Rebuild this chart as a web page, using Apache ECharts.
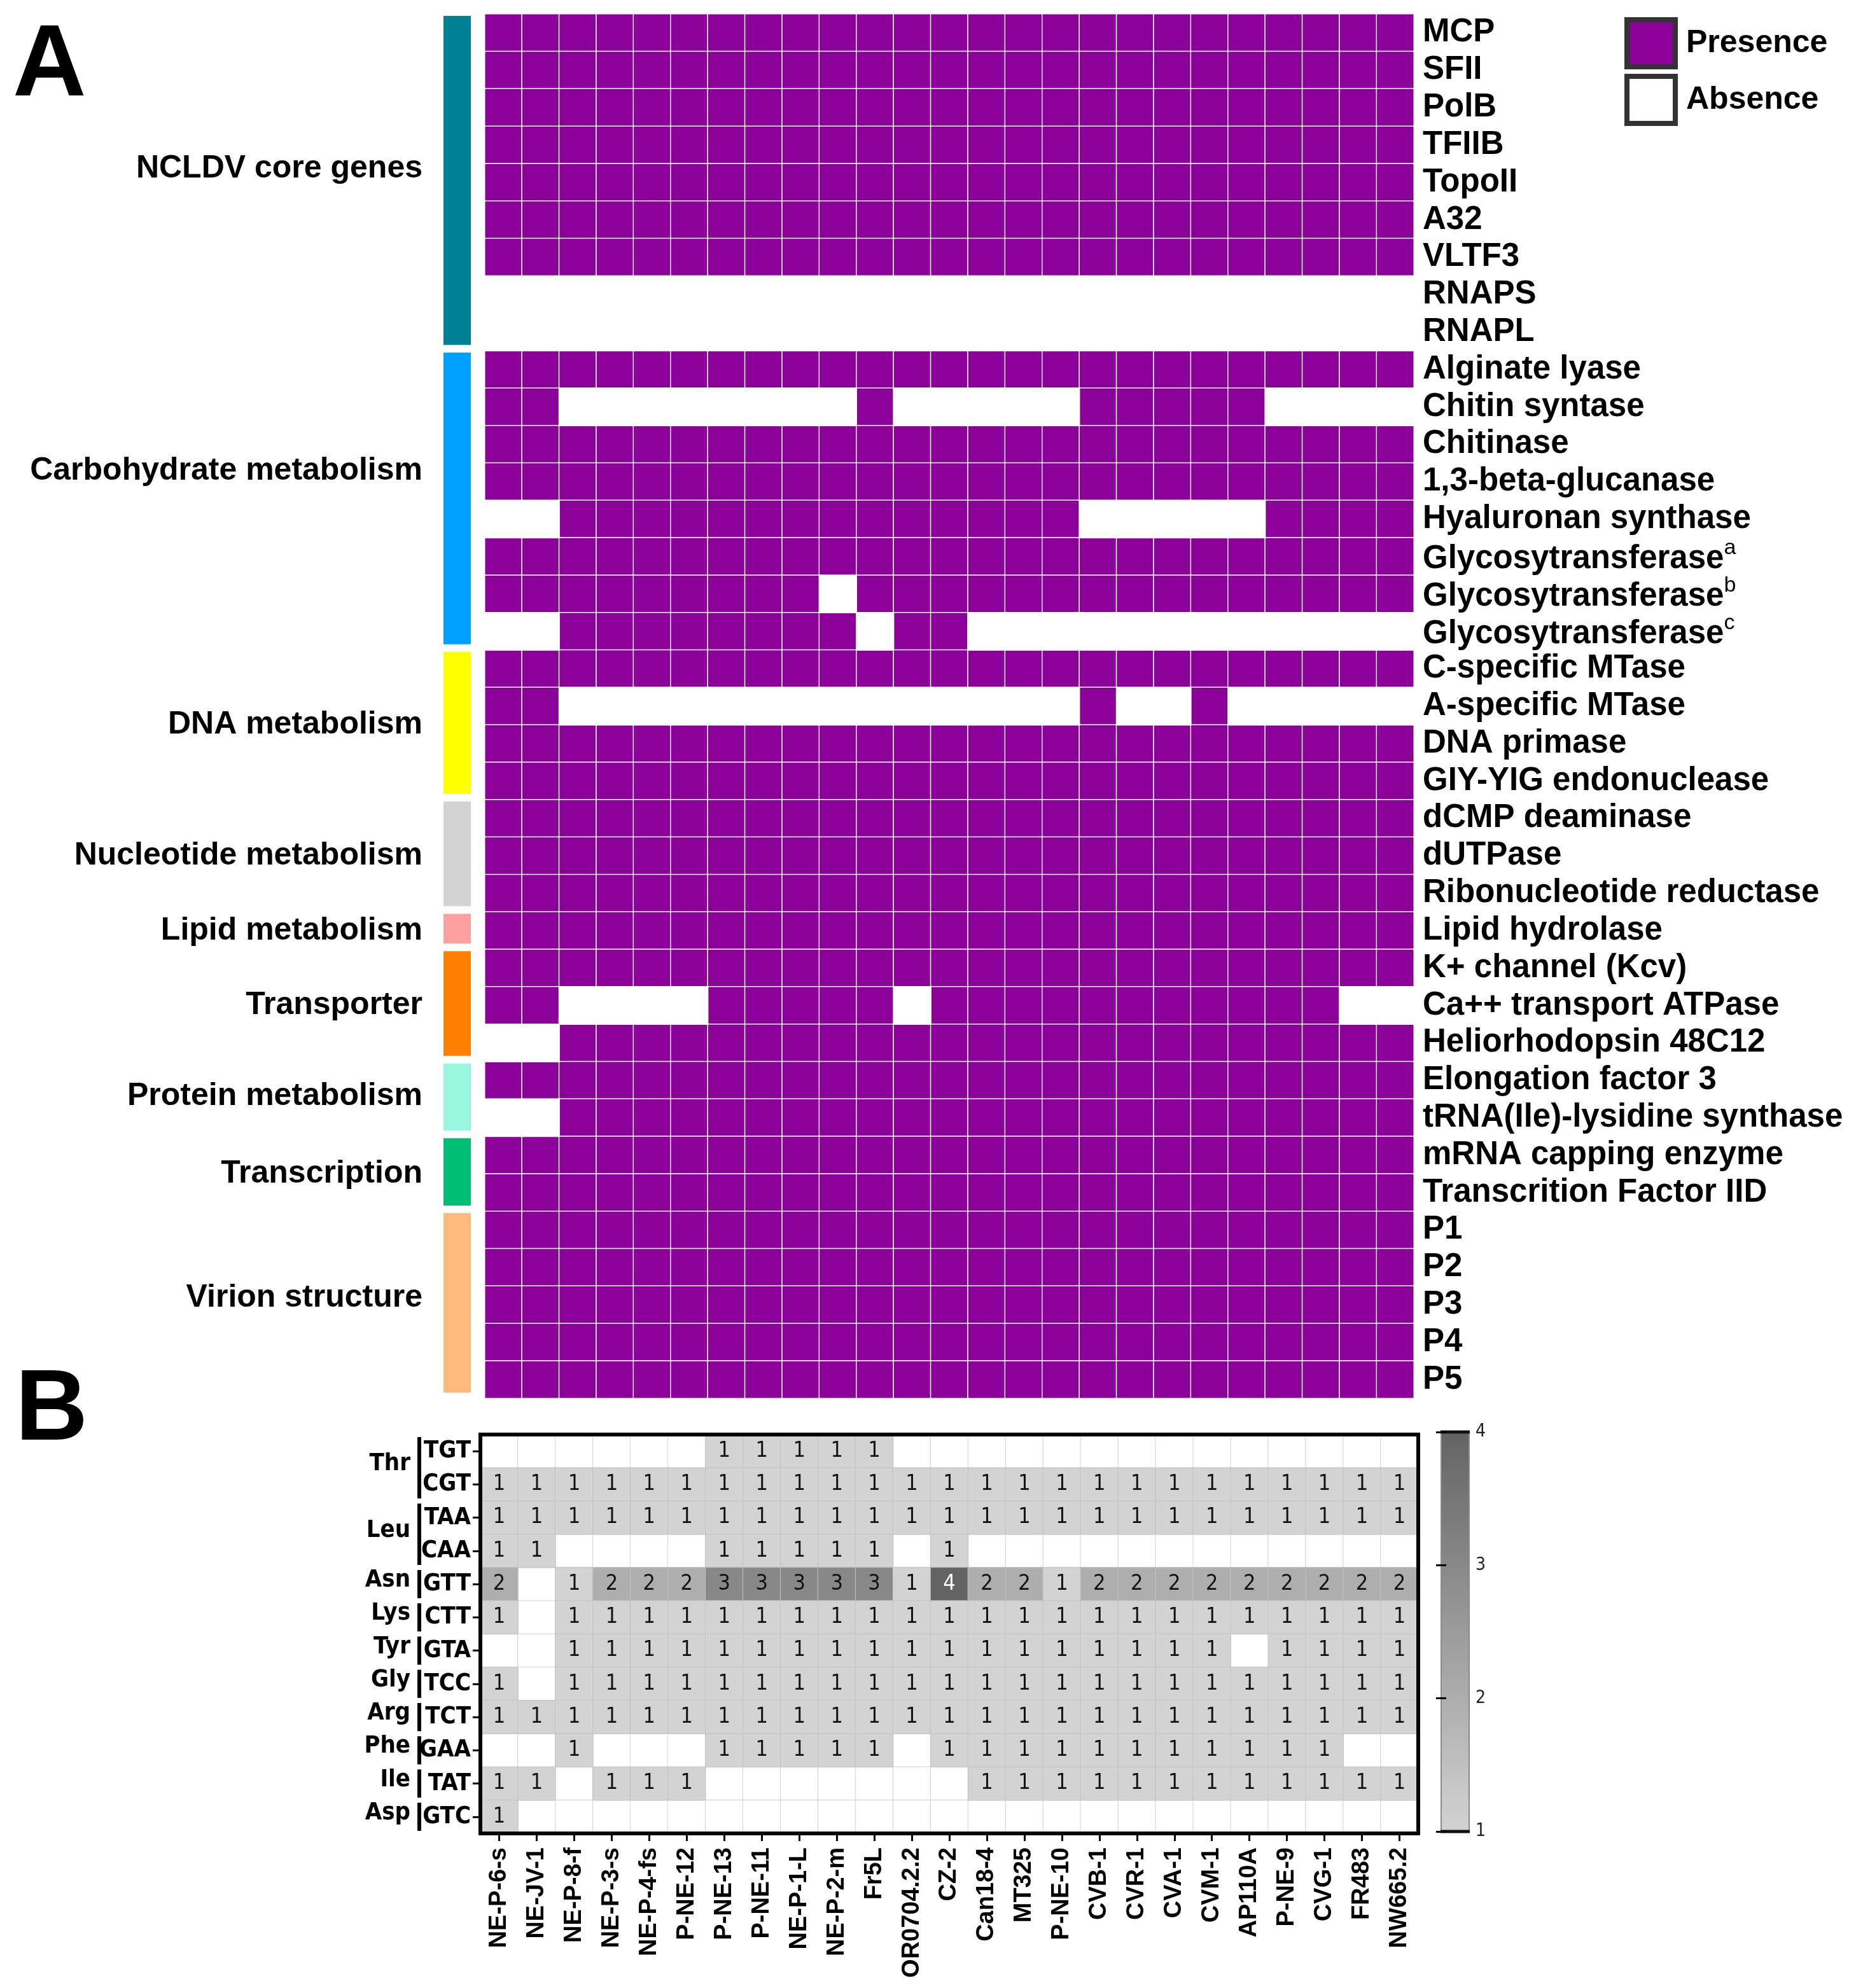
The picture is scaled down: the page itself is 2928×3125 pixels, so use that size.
<!DOCTYPE html>
<html><head><meta charset="utf-8">
<script src="https://cdn.jsdelivr.net/npm/echarts@6/dist/echarts.min.js"></script>
<style>html,body{margin:0;padding:0;background:#fff}#c{width:2928px;height:3125px}</style>
</head><body><div id="c"></div>
<script>
// ---------------- DATA ----------------
const strains = ['NE-P-6-s','NE-JV-1','NE-P-8-f','NE-P-3-s','NE-P-4-fs','P-NE-12','P-NE-13','P-NE-11','NE-P-1-L','NE-P-2-m','Fr5L','OR0704.2.2','CZ-2','Can18-4','MT325','P-NE-10','CVB-1','CVR-1','CVA-1','CVM-1','AP110A','P-NE-9','CVG-1','FR483','NW665.2'];

const genes = ['MCP','SFII','PolB','TFIIB','TopoII','A32','VLTF3','RNAPS','RNAPL',
  'Alginate lyase','Chitin syntase','Chitinase','1,3-beta-glucanase','Hyaluronan synthase','Glycosytransferase^a','Glycosytransferase^b','Glycosytransferase^c',
  'C-specific MTase','A-specific MTase','DNA primase','GIY-YIG endonuclease',
  'dCMP deaminase','dUTPase','Ribonucleotide reductase',
  'Lipid hydrolase',
  'K+ channel (Kcv)','Ca++ transport ATPase','Heliorhodopsin 48C12',
  'Elongation factor 3','tRNA(Ile)-lysidine synthase',
  'mRNA capping enzyme','Transcrition Factor IID',
  'P1','P2','P3','P4','P5'];

// 1 = presence, 0 = absence; one string per gene, columns follow `strains`
const presence = [
  '11111 11111 11111 11111 11111', // MCP
  '11111 11111 11111 11111 11111', // SFII
  '11111 11111 11111 11111 11111', // PolB
  '11111 11111 11111 11111 11111', // TFIIB
  '11111 11111 11111 11111 11111', // TopoII
  '11111 11111 11111 11111 11111', // A32
  '11111 11111 11111 11111 11111', // VLTF3
  '00000 00000 00000 00000 00000', // RNAPS
  '00000 00000 00000 00000 00000', // RNAPL
  '11111 11111 11111 11111 11111', // Alginate lyase
  '11000 00000 10000 01111 10000', // Chitin syntase
  '11111 11111 11111 11111 11111', // Chitinase
  '11111 11111 11111 11111 11111', // 1,3-beta-glucanase
  '00111 11111 11111 10000 01111', // Hyaluronan synthase
  '11111 11111 11111 11111 11111', // Glycosyltransferase a
  '11111 11110 11111 11111 11111', // Glycosyltransferase b
  '00111 11111 01100 00000 00000', // Glycosyltransferase c
  '11111 11111 11111 11111 11111', // C-specific MTase
  '11000 00000 00000 01001 00000', // A-specific MTase
  '11111 11111 11111 11111 11111', // DNA primase
  '11111 11111 11111 11111 11111', // GIY-YIG
  '11111 11111 11111 11111 11111', // dCMP deaminase
  '11111 11111 11111 11111 11111', // dUTPase
  '11111 11111 11111 11111 11111', // RNR
  '11111 11111 11111 11111 11111', // Lipid hydrolase
  '11111 11111 11111 11111 11111', // K+ channel
  '11000 01111 10111 11111 11100', // Ca++ ATPase
  '00111 11111 11111 11111 11111', // Heliorhodopsin
  '11111 11111 11111 11111 11111', // Elongation factor 3
  '00111 11111 11111 11111 11111', // tRNA(Ile)-lysidine synthase
  '11111 11111 11111 11111 11111', // mRNA capping
  '11111 11111 11111 11111 11111', // TFIID
  '11111 11111 11111 11111 11111', // P1
  '11111 11111 11111 11111 11111', // P2
  '11111 11111 11111 11111 11111', // P3
  '11111 11111 11111 11111 11111', // P4
  '11111 11111 11111 11111 11111'  // P5
];

const groupNames = ['NCLDV core genes','Carbohydrate metabolism','DNA metabolism','Nucleotide metabolism','Lipid metabolism','Transporter','Protein metabolism','Transcription','Virion structure'];
const groupSizes = [9, 8, 4, 3, 1, 3, 2, 2, 5];

const codons = ['TGT','CGT','TAA','CAA','GTT','CTT','GTA','TCC','TCT','GAA','TAT','GTC'];
const aminoAcids = ['Thr','Leu','Asn','Lys','Tyr','Gly','Arg','Phe','Ile','Asp'];
const aminoSizes = [2, 2, 1, 1, 1, 1, 1, 1, 1, 1];

// tRNA gene counts per codon row, columns follow `strains` (0 = none)
const tRNA_TGT = [0,0,0,0,0,0,1,1,1,1,1,0,0,0,0,0,0,0,0,0,0,0,0,0,0];
const tRNA_CGT = [1,1,1,1,1,1,1,1,1,1,1,1,1,1,1,1,1,1,1,1,1,1,1,1,1];
const tRNA_TAA = [1,1,1,1,1,1,1,1,1,1,1,1,1,1,1,1,1,1,1,1,1,1,1,1,1];
const tRNA_CAA = [1,1,0,0,0,0,1,1,1,1,1,0,1,0,0,0,0,0,0,0,0,0,0,0,0];
const tRNA_GTT = [2,0,1,2,2,2,3,3,3,3,3,1,4,2,2,1,2,2,2,2,2,2,2,2,2];
const tRNA_CTT = [1,0,1,1,1,1,1,1,1,1,1,1,1,1,1,1,1,1,1,1,1,1,1,1,1];
const tRNA_GTA = [0,0,1,1,1,1,1,1,1,1,1,1,1,1,1,1,1,1,1,1,0,1,1,1,1];
const tRNA_TCC = [1,0,1,1,1,1,1,1,1,1,1,1,1,1,1,1,1,1,1,1,1,1,1,1,1];
const tRNA_TCT = [1,1,1,1,1,1,1,1,1,1,1,1,1,1,1,1,1,1,1,1,1,1,1,1,1];
const tRNA_GAA = [0,0,1,0,0,0,1,1,1,1,1,0,1,1,1,1,1,1,1,1,1,1,1,0,0];
const tRNA_TAT = [1,1,0,1,1,1,0,0,0,0,0,0,0,1,1,1,1,1,1,1,1,1,1,1,1];
const tRNA_GTC = [1,0,0,0,0,0,0,0,0,0,0,0,0,0,0,0,0,0,0,0,0,0,0,0,0];
const tRNArows = [tRNA_TGT,tRNA_CGT,tRNA_TAA,tRNA_CAA,tRNA_GTT,tRNA_CTT,tRNA_GTA,tRNA_TCC,tRNA_TCT,tRNA_GAA,tRNA_TAT,tRNA_GTC];

const colorbarTicks = [1, 2, 3, 4];

// ---------------- STYLE ----------------
const FONT = "'Liberation Sans', Arial, Helvetica, sans-serif";
const NARROW = "'Liberation Sans Narrow', 'Arial Narrow', 'DejaVu Sans Condensed', 'Liberation Sans', sans-serif";
const PURPLE = '#8a0099';
const GRAY_RANGE = ['#d3d3d3', '#636363'];
const groupColors = ['#008094','#00a0ff','#ffff00','#d3d3d3','#ffa0a0','#ff7f00','#98f5de','#00be72','#ffb97c'];
const groupLabelShift = {'NCLDV core genes': -21, 'Carbohydrate metabolism': -46, 'Virion structure': -11, 'Protein metabolism': -4};

// ---------------- BUILD ----------------
const presData = [], absData = [];
presence.forEach((row, r) => {
  row.replace(/ /g, '').split('').forEach((ch, c) => {
    if (ch === '1') presData.push([c, r, 1]); else absData.push([c, r, 0]);
  });
});
const groupData = [];
let s = 0;
groupSizes.forEach((n, i) => { groupData.push([0, s, s + n - 1, i]); s += n; });
const aaData = [];
s = 0;
aminoSizes.forEach((n, i) => { aaData.push([0, s, s + n - 1, i]); s += n; });
const trnaData = [], trnaEmpty = [];
tRNArows.forEach((row, r) => row.forEach((v, c) => (v > 0 ? trnaData : trnaEmpty).push([c, r, v])));
const cbMin = colorbarTicks[0], cbMax = colorbarTicks[colorbarTicks.length - 1];

const chart = echarts.init(document.getElementById('c'), null, {renderer: 'canvas'});
const option = {
  animation: false,
  backgroundColor: '#fff',
  title: [
    {text: 'A', left: 20, top: 26, padding: 0, textStyle: {fontSize: 160, fontWeight: 'bold', fontFamily: FONT, color: '#000'}},
    {text: 'B', left: 24, top: 2140, padding: 0, textStyle: {fontSize: 158, fontWeight: 'bold', fontFamily: FONT, color: '#000'}}
  ],
  legend: {
    data: ['Presence', 'Absence'],
    orient: 'vertical', left: 2548, top: 22,
    itemWidth: 76, itemHeight: 74, itemGap: 7, icon: 'rect',
    itemStyle: {borderColor: '#333', borderWidth: 8},
    textStyle: {fontSize: 50, fontWeight: 'bold', fontFamily: FONT, color: '#000', padding: [0, 0, 0, 12]},
    selectedMode: false
  },
  grid: [
    {left: 762, top: 22, width: 1460, height: 2176},
    {left: 697, top: 22, width: 43, height: 2176},
    {left: 755, top: 2255, width: 1474, height: 627},
    {left: 2265, top: 2251, width: 44, height: 628}
  ],
  xAxis: [
    {gridIndex: 0, type: 'category', data: strains, show: false},
    {gridIndex: 1, type: 'value', min: 0, max: 1, show: false},
    {gridIndex: 2, type: 'category', data: strains,
      axisLine: {show: false}, splitLine: {show: false},
      axisTick: {show: true, alignWithLabel: true, length: 12, lineStyle: {color: '#000', width: 3}},
      axisLabel: {rotate: 90, interval: 0, margin: 22, fontSize: 38, fontWeight: 'bold', fontFamily: FONT, color: '#000'}},
    {gridIndex: 3, type: 'value', min: 0, max: 1, show: false}
  ],
  yAxis: [
    {gridIndex: 0, type: 'category', data: genes, inverse: true, position: 'right',
      axisLine: {show: false}, axisTick: {show: false}, splitLine: {show: false},
      axisLabel: {interval: 0, margin: 14, fontSize: 51, fontWeight: 'bold', fontFamily: FONT, color: '#000',
        formatter: v => { const m = v.match(/^(.*)\^(\w)$/); return m ? '{b|' + m[1] + '}{sup|' + m[2] + '}' : v; },
        rich: {
          b: {fontSize: 51, fontWeight: 'bold', fontFamily: FONT, color: '#000', lineHeight: 60, verticalAlign: 'bottom'},
          sup: {fontSize: 34, fontWeight: 'normal', fontFamily: FONT, color: '#000', verticalAlign: 'top', lineHeight: 34}}}},
    {gridIndex: 1, type: 'category', data: genes, inverse: true, show: false},
    {gridIndex: 2, type: 'category', data: codons, inverse: true,
      axisLine: {show: false}, splitLine: {show: false},
      axisTick: {show: true, alignWithLabel: true, length: 12, lineStyle: {color: '#000', width: 3}},
      axisLabel: {interval: 0, margin: 15, fontSize: 38, fontWeight: 'bold', fontFamily: NARROW, color: '#000'}},
    {gridIndex: 3, type: 'value', min: cbMin, max: cbMax, interval: 1, position: 'right', z: 10,
      axisLine: {show: false}, splitLine: {show: false},
      axisTick: {show: true, inside: true, length: 8, lineStyle: {color: '#000', width: 3}},
      axisLabel: {margin: 10, fontSize: 28, fontFamily: NARROW, color: '#222'}},
    {gridIndex: 3, type: 'value', min: cbMin, max: cbMax, interval: 1, position: 'left', z: 10,
      axisLine: {show: false}, splitLine: {show: false}, axisLabel: {show: false},
      axisTick: {show: true, inside: true, length: 8, lineStyle: {color: '#000', width: 3}}}
  ],
  visualMap: {
    show: false, type: 'continuous', min: cbMin, max: cbMax, dimension: 2, seriesIndex: 4,
    inRange: {color: GRAY_RANGE}
  },
  series: [
    {type: 'heatmap', name: 'Presence', xAxisIndex: 0, yAxisIndex: 0, data: presData,
      itemStyle: {color: PURPLE, borderColor: '#ffffff', borderWidth: 1.5}, emphasis: {disabled: true}},
    {type: 'heatmap', name: 'Absence', xAxisIndex: 0, yAxisIndex: 0, data: absData,
      itemStyle: {color: '#ffffff', borderColor: '#ffffff', borderWidth: 1.5}, emphasis: {disabled: true}},
    {type: 'custom', name: 'groups', xAxisIndex: 1, yAxisIndex: 1, data: groupData,
      encode: {x: 0, y: 1},
      renderItem: (params, api) => {
        const cs = params.coordSys;
        const band = api.size([0, 1])[1];
        const g = api.value(3);
        const top = api.coord([0, api.value(1)])[1] - band / 2;
        const bot = api.coord([0, api.value(2)])[1] + band / 2;
        const name = groupNames[g];
        return {type: 'group', children: [
          {type: 'rect', shape: {x: cs.x, y: top + 3, width: cs.width, height: bot - top - 12}, style: {fill: groupColors[g]}},
          {type: 'text', style: {text: name, x: cs.x - 33, y: (top + bot) / 2 + (groupLabelShift[name] || 0),
            align: 'right', verticalAlign: 'middle', fontSize: 50, fontWeight: 'bold', fontFamily: FONT, fill: '#000'}}
        ]};
      }},
    {type: 'heatmap', name: 'tRNA-empty', xAxisIndex: 2, yAxisIndex: 2, data: trnaEmpty,
      itemStyle: {color: '#ffffff', borderColor: '#d2d2d2', borderWidth: 1}, emphasis: {disabled: true}},
    {type: 'heatmap', name: 'tRNA', xAxisIndex: 2, yAxisIndex: 2, data: trnaData,
      itemStyle: {borderColor: '#c2c2c2', borderWidth: 1}, emphasis: {disabled: true},
      label: {show: true, fontFamily: NARROW,
        formatter: p => { const v = p.value[2]; return v >= 4 ? '{w|' + v + '}' : '{k|' + v + '}'; },
        rich: {k: {fontSize: 34, color: '#111', fontFamily: NARROW}, w: {fontSize: 34, color: '#fff', fontFamily: NARROW}}}},
    {type: 'custom', name: 'aa', xAxisIndex: 2, yAxisIndex: 2, data: aaData, encode: {x: 0, y: 1},
      renderItem: (params, api) => {
        const cs = params.coordSys;
        const band = api.size([0, 1])[1];
        const top = api.coord([0, api.value(1)])[1] - band / 2;
        const bot = api.coord([0, api.value(2)])[1] + band / 2;
        return {type: 'group', children: [
          {type: 'rect', shape: {x: cs.x - 99, y: top + 4, width: 6, height: bot - top - 8}, style: {fill: '#000'}},
          {type: 'text', style: {text: aminoAcids[api.value(3)], x: cs.x - 110, y: (top + bot) / 2 - 6,
            align: 'right', verticalAlign: 'middle', fontSize: 38, fontWeight: 'bold', fontFamily: NARROW, fill: '#000'}}
        ]};
      }},
    {type: 'custom', name: 'frame', xAxisIndex: 2, yAxisIndex: 2, data: [[0, 0]], z: 10,
      renderItem: (params) => {
        const cs = params.coordSys;
        return {type: 'rect', shape: {x: cs.x, y: cs.y, width: cs.width, height: cs.height},
          style: {fill: 'none', stroke: '#000', lineWidth: 6}};
      }},
    {type: 'custom', name: 'colorbar', xAxisIndex: 3, yAxisIndex: 3, data: [[0, cbMin, cbMax]], z: 2,
      renderItem: (params, api) => {
        const cs = params.coordSys;
        const top = api.coord([0, api.value(2)])[1];
        const bot = api.coord([0, api.value(1)])[1];
        return {type: 'group', children: [
          {type: 'rect', shape: {x: cs.x, y: top, width: cs.width, height: bot - top},
            style: {fill: new echarts.graphic.LinearGradient(0, 0, 0, 1, [{offset: 0, color: GRAY_RANGE[1]}, {offset: 1, color: GRAY_RANGE[0]}]), stroke: '#8a8a8a', lineWidth: 2}},
          {type: 'line', shape: {x1: cs.x - 1, y1: top, x2: cs.x + cs.width + 1, y2: top}, style: {stroke: '#111', lineWidth: 5}},
          {type: 'line', shape: {x1: cs.x - 1, y1: bot, x2: cs.x + cs.width + 1, y2: bot}, style: {stroke: '#111', lineWidth: 5}}
        ]};
      }}
  ]
};
chart.setOption(option);
</script>
</body></html>
